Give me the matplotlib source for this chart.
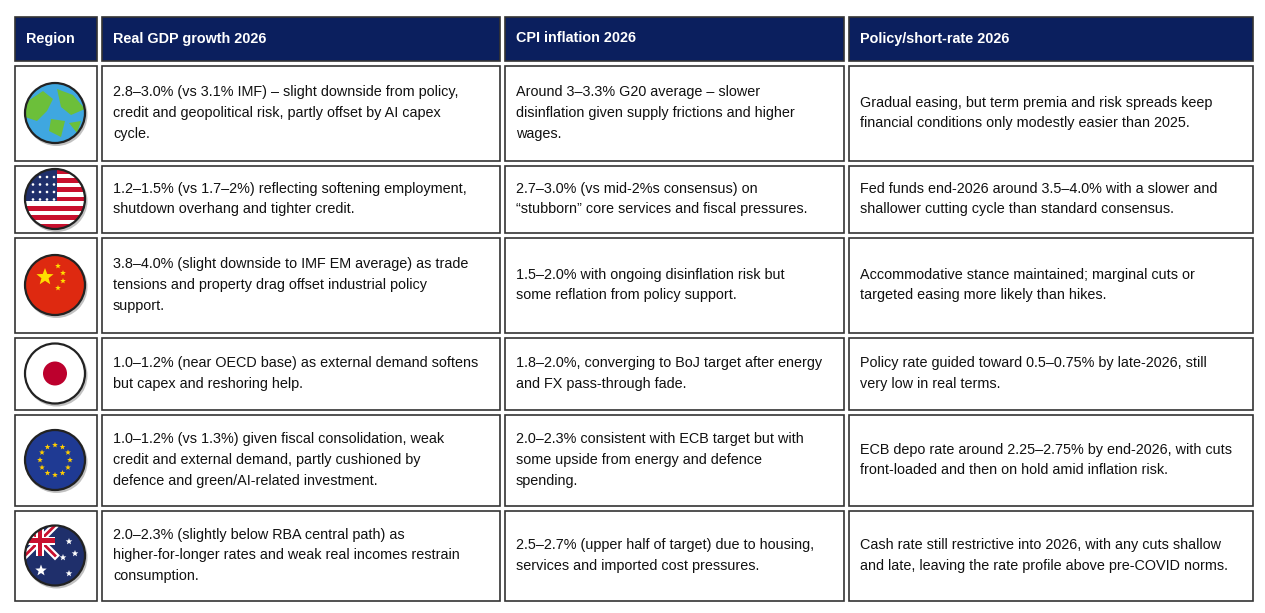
import matplotlib
matplotlib.use("Agg")
import matplotlib.pyplot as plt
from matplotlib.patches import Rectangle, Circle, Polygon
from matplotlib.lines import Line2D
import numpy as np

headers = ["Region", "Real GDP growth 2026", "CPI inflation 2026", "Policy/short-rate 2026"]
regions = ["world", "us", "china", "japan", "eu", "australia"]
gdp = [
    "2.8–3.0% (vs 3.1% IMF) – slight downside from policy,\ncredit and geopolitical risk, partly offset by AI capex\ncycle.",
    "1.2–1.5% (vs 1.7–2%) reflecting softening employment,\nshutdown overhang and tighter credit.",
    "3.8–4.0% (slight downside to IMF EM average) as trade\ntensions and property drag offset industrial policy\nsupport.",
    "1.0–1.2% (near OECD base) as external demand softens\nbut capex and reshoring help.",
    "1.0–1.2% (vs 1.3%) given fiscal consolidation, weak\ncredit and external demand, partly cushioned by\ndefence and green/AI-related investment.",
    "2.0–2.3% (slightly below RBA central path) as\nhigher-for-longer rates and weak real incomes restrain\nconsumption.",
]
cpi = [
    "Around 3–3.3% G20 average – slower\ndisinflation given supply frictions and higher\nwages.",
    "2.7–3.0% (vs mid-2%s consensus) on\n“stubborn” core services and fiscal pressures.",
    "1.5–2.0% with ongoing disinflation risk but\nsome reflation from policy support.",
    "1.8–2.0%, converging to BoJ target after energy\nand FX pass-through fade.",
    "2.0–2.3% consistent with ECB target but with\nsome upside from energy and defence\nspending.",
    "2.5–2.7% (upper half of target) due to housing,\nservices and imported cost pressures.",
]
policy = [
    "Gradual easing, but term premia and risk spreads keep\nfinancial conditions only modestly easier than 2025.",
    "Fed funds end-2026 around 3.5–4.0% with a slower and\nshallower cutting cycle than standard consensus.",
    "Accommodative stance maintained; marginal cuts or\ntargeted easing more likely than hikes.",
    "Policy rate guided toward 0.5–0.75% by late-2026, still\nvery low in real terms.",
    "ECB depo rate around 2.25–2.75% by end-2026, with cuts\nfront-loaded and then on hold amid inflation risk.",
    "Cash rate still restrictive into 2026, with any cuts shallow\nand late, leaving the rate profile above pre-COVID norms.",
]

W, H = 1265, 613
fig = plt.figure(figsize=(W/100, H/100), dpi=100)
ax = fig.add_axes([0, 0, 1, 1])
ax.set_xlim(0, W); ax.set_ylim(H, 0); ax.axis("off")
FONT = ['Liberation Sans', 'DejaVu Sans']

cols = [12, 99, 502, 846, 1255]
rows = [14, 63, 163, 235, 335, 412, 508, 603]
navy = "#0b1f5e"
border = "#333333"
g = 2.5

for r in range(len(rows)-1):
    y0, y1 = rows[r], rows[r+1]
    for c in range(4):
        x0, x1 = cols[c], cols[c+1]
        if r == 0:
            ax.add_patch(Rectangle((x0+g, y0+g), x1-x0-2*g, y1-y0-2*g, fc=navy, ec=border, lw=1.2))
            ax.text(x0+14, (y0+y1)/2, headers[c], color="white", fontsize=10.4, fontweight="bold",
                    va="center", ha="left", family=FONT)
        else:
            ax.add_patch(Rectangle((x0+g, y0+g), x1-x0-2*g, y1-y0-2*g, fc="white", ec=border, lw=1.2))
            if c > 0:
                txt = [gdp, cpi, policy][c-1][r-1]
                ax.text(x0+14, (y0+y1)/2, txt, fontsize=10.4, va="center", ha="left",
                        linespacing=1.6, family=FONT, color="#111111")

def star(cx, cy, R, color, z=5, clip=None):
    pts = []
    for i in range(10):
        a = np.pi/2 + i*np.pi/5
        rr = R if i % 2 == 0 else R*0.42
        pts.append((cx + rr*np.cos(a), cy - rr*np.sin(a)))
    p = Polygon(pts, fc=color, ec="none", zorder=z)
    ax.add_patch(p)
    if clip is not None: p.set_clip_path(clip)

def flag(kind, cx, cy, R=30):
    ax.add_patch(Circle((cx+1.5, cy+2), R+1, fc="#999999", ec="none", zorder=2, alpha=0.6))
    clip = Circle((cx, cy), R, transform=ax.transData)
    def add(p):
        p.set_zorder(p.get_zorder() if p.get_zorder() > 3 else 4)
        ax.add_patch(p); p.set_clip_path(clip)
    if kind == "world":
        add(Rectangle((cx-R, cy-R), 2*R, 2*R, fc="#3fa7e0", ec="none"))
        add(Polygon([(cx-R, cy-10), (cx-12, cy-22), (cx-2, cy-14), (cx-8, cy-2), (cx-18, cy+8), (cx-R, cy+4)], fc="#6cbf3a", ec="none"))
        add(Polygon([(cx+2, cy-24), (cx+18, cy-18), (cx+R, cy-4), (cx+16, cy+2), (cx+6, cy-6)], fc="#6cbf3a", ec="none"))
        add(Polygon([(cx-4, cy+6), (cx+10, cy+8), (cx+6, cy+24), (cx-6, cy+18)], fc="#6cbf3a", ec="none"))
        add(Polygon([(cx+14, cy+10), (cx+26, cy+8), (cx+22, cy+20)], fc="#6cbf3a", ec="none"))
    elif kind == "us":
        sh = 2*R/13
        for i in range(13):
            add(Rectangle((cx-R, cy-R+i*sh), 2*R, sh, fc="#c8102e" if i % 2 == 0 else "white", ec="none"))
        add(Rectangle((cx-R, cy-R), R*1.05, 7*sh, fc="#1f2f6b", ec="none"))
        for i in range(4):
            for j in range(4):
                add(Circle((cx-R+8+j*7, cy-R+8+i*7.5), 1.3, fc="white", ec="none", zorder=5))
    elif kind == "china":
        add(Rectangle((cx-R, cy-R), 2*R, 2*R, fc="#de2910", ec="none"))
        star(cx-10, cy-8, 9, "#ffde00", clip=clip)
        for dx, dy in [(3, -19), (8, -12), (8, -4), (3, 3)]:
            star(cx+dx, cy+dy, 3, "#ffde00", clip=clip)
    elif kind == "japan":
        add(Rectangle((cx-R, cy-R), 2*R, 2*R, fc="white", ec="none"))
        add(Circle((cx, cy), 12, fc="#bc002d", ec="none", zorder=5))
    elif kind == "eu":
        add(Rectangle((cx-R, cy-R), 2*R, 2*R, fc="#1f3a93", ec="none"))
        for i in range(12):
            a = i*np.pi/6
            star(cx+15*np.cos(a), cy+15*np.sin(a), 3, "#ffcc00", clip=clip)
    elif kind == "australia":
        add(Rectangle((cx-R, cy-R), 2*R, 2*R, fc="#1f2f6b", ec="none"))
        ux0, uy0, ux1, uy1 = cx-R, cy-R, cx, cy
        for (a, b, c_, d, col, lw) in [(ux0, uy0, ux1, uy1, "white", 5), (ux0, uy1, ux1, uy0, "white", 5),
                                      (ux0, uy0, ux1, uy1, "#c8102e", 2), (ux0, uy1, ux1, uy0, "#c8102e", 2)]:
            l = Line2D([a, c_], [b, d], color=col, lw=lw, zorder=5); ax.add_line(l); l.set_clip_path(clip)
        add(Rectangle(((ux0+ux1)/2-4, uy0), 8, R, fc="white", ec="none", zorder=6))
        add(Rectangle((ux0, (uy0+uy1)/2-4), R, 8, fc="white", ec="none", zorder=6))
        add(Rectangle(((ux0+ux1)/2-2.2, uy0), 4.4, R, fc="#c8102e", ec="none", zorder=7))
        add(Rectangle((ux0, (uy0+uy1)/2-2.2), R, 4.4, fc="#c8102e", ec="none", zorder=7))
        star(cx-14, cy+15, 6, "white", clip=clip)
        for dx, dy, s in [(14, -14, 3.5), (20, -2, 3.5), (8, 2, 3.5), (14, 18, 3.5)]:
            star(cx+dx, cy+dy, s, "white", clip=clip)
    ax.add_patch(Circle((cx, cy), R, fc="none", ec="#222222", lw=1.6, zorder=9))

for r, kind in enumerate(regions):
    cy = (rows[r+1] + rows[r+2]) / 2
    flag(kind, 55, cy)

fig.savefig("out.png", dpi=100, facecolor="white")
